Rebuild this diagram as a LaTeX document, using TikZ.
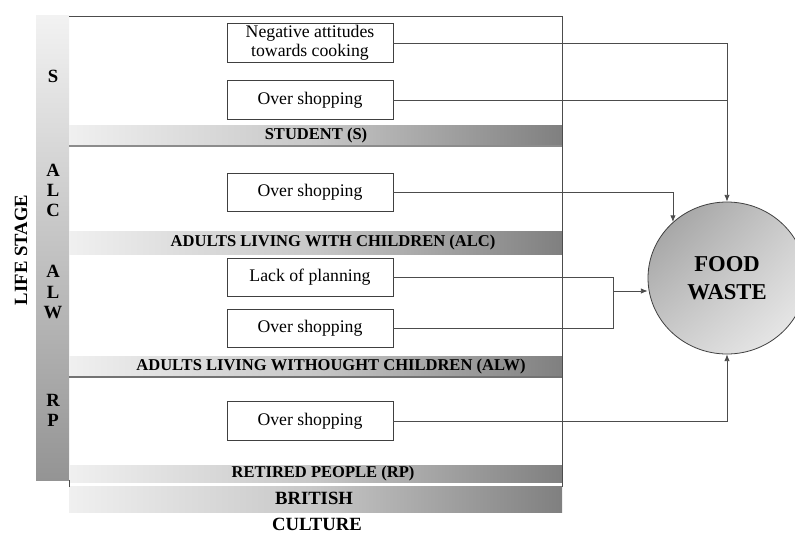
\documentclass[tikz,border=0pt]{standalone}
\usepackage{fontspec}
\setmainfont{Liberation Serif}
\usetikzlibrary{arrows.meta,shapes.geometric,shadings}
\begin{document}
\begin{tikzpicture}[x=0.75pt,y=0.75pt,
  cause/.style={draw=black!75,line width=0.6pt,fill=white,minimum width=124.5pt,minimum height=29pt,inner sep=1pt,align=center,font=\fontsize{13.3}{14.5}\selectfont},
  bandlabel/.style={font=\bfseries\fontsize{12.4}{14}\selectfont,inner sep=0pt},
  letter/.style={font=\bfseries\fontsize{14}{15}\selectfont,inner sep=0pt},
  link/.style={draw=black!70,line width=0.6pt},
  arr/.style={link,-{Latex[length=5pt,width=4pt]}},
  band/.style={left color=black!6,right color=black!50,middle color=black!22}
]
\useasboundingbox (0,0) rectangle (795,-533);

% life stage column
\shade[top color=black!5,bottom color=black!42] (36,-15) rectangle (69,-480);

% section bands
\shade[band] (69,-125) rectangle (562,-146);
\shade[band] (69,-231) rectangle (562,-254);
\shade[band] (69,-356) rectangle (562,-377);
\shade[band] (69,-465) rectangle (562,-482);
\shade[band] (69,-486) rectangle (562,-512);
\draw[black!45,line width=0.8pt] (69,-146) -- (562,-146);
\draw[black!55,line width=0.8pt] (69,-377) -- (562,-377);

% outer frame
\draw[black!70,line width=0.6pt] (69,-16) -- (562,-16) -- (562,-487);
\draw[black!70,line width=0.5pt] (69,-480) -- (69,-487);

% band titles
\node[bandlabel] (tS) at (316,-136) {STUDENT (S)};
\node[bandlabel] (tALC) at (333,-243) {ADULTS LIVING WITH CHILDREN (ALC)};
\node[bandlabel] (tALW) at (331,-367) {ADULTS LIVING WITHOUGHT CHILDREN (ALW)};
\node[bandlabel] (tRP) at (323,-474) {RETIRED PEOPLE (RP)};
\node[font=\bfseries\fontsize{14}{16}\selectfont,inner sep=0pt] (brit) at (314,-498) {BRITISH};
\node[font=\bfseries\fontsize{14}{16}\selectfont,inner sep=0pt] (cult) at (317,-524) {CULTURE};

% stage letters
\node[letter] (lS) at (53,-76) {S};
\node[letter] (lA1) at (53,-170) {A};
\node[letter] (lL1) at (53,-190) {L};
\node[letter] (lC) at (53,-210) {C};
\node[letter] (lA2) at (53,-271) {A};
\node[letter] (lL2) at (53,-292) {L};
\node[letter] (lW) at (53,-313) {W};
\node[letter] (lR) at (53,-400) {R};
\node[letter] (lP) at (53,-420) {P};
\node[font=\bfseries\fontsize{14}{16}\selectfont,inner sep=0pt,rotate=90] (life) at (21,-250) {LIFE STAGE};

% causes
\node[cause] (neg) at (310,-43) {Negative attitudes\\towards cooking};
\node[cause] (os1) at (310,-100) {Over shopping};
\node[cause] (os2) at (310,-192.5) {Over shopping};
\node[cause] (lp) at (310,-277.5) {Lack of planning};
\node[cause] (os3) at (310,-328.5) {Over shopping};
\node[cause] (os4) at (310,-421) {Over shopping};

% outcome
\node[ellipse,draw=black!75,line width=0.6pt,minimum width=118.5pt,minimum height=114pt,
      shade,upper left=black!40,lower right=black!6,upper right=black!20,lower left=black!20,
      align=center,font=\bfseries\fontsize{17}{21}\selectfont] (fw) at (727,-278) {FOOD\\WASTE};

% connectors
\draw[arr] (neg.east) -| (fw.north);
\draw[link] (os1.east) -- (os1.east -| fw.north);
\draw[arr] (os2.east) -| (fw.134);
\coordinate (jn) at (613,-291);
\draw[link] (lp.east) -| (jn);
\draw[link] (os3.east) -| (jn);
\draw[arr] (jn) -- (jn -| fw.west);
\draw[arr] (os4.east) -| (fw.south);
\end{tikzpicture}
\end{document}
